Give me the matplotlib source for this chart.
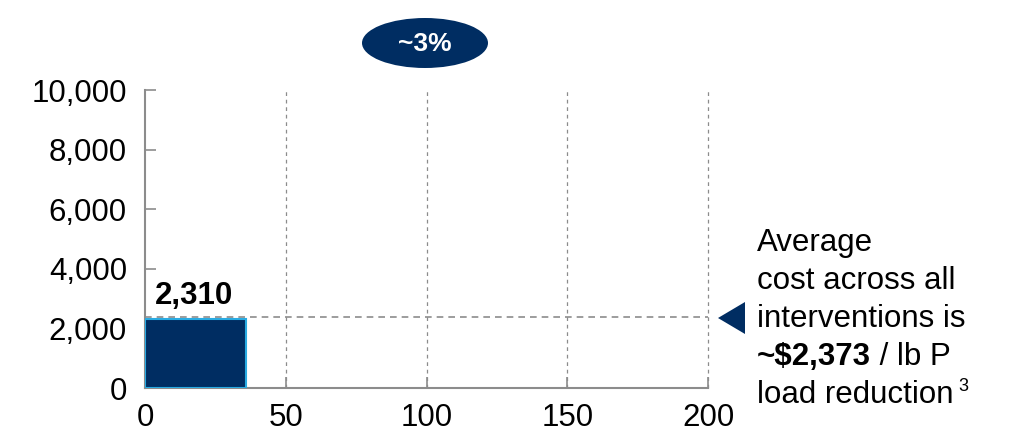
import matplotlib
matplotlib.use("Agg")
import matplotlib.pyplot as plt
from matplotlib.patches import Ellipse, Polygon

plt.rcParams['font.family'] = ['Liberation Sans', 'DejaVu Sans']

# Data
bar_left = [0]
bar_widths = [36]
bar_heights = [2310]
bar_labels = ["2,310"]
average_cost = 2373
xticks = [0, 50, 100, 150, 200]
yticks = [0, 2000, 4000, 6000, 8000, 10000]
ytick_labels = ["0", "2,000", "4,000", "6,000", "8,000", "10,000"]
share_label = "~3%"

navy = "#002D62"
light_blue = "#29ABE2"
gray = "#8C8C8C"

W, H = 1010, 434
fig = plt.figure(figsize=(W / 100, H / 100), dpi=100)
ax = fig.add_axes([145 / W, 1 - 388 / H, (708 - 145) / W, (388 - 90) / H])

ax.bar(bar_left, bar_heights, width=bar_widths, align='edge', color=navy,
       edgecolor=light_blue, linewidth=1.5, zorder=3)
for x, w, h, lab in zip(bar_left, bar_widths, bar_heights, bar_labels):
    ax.annotate(lab, xy=(x, h), xytext=(10, 8), textcoords='offset pixels',
                ha='left', va='bottom', fontsize=22.5, fontweight='bold', color='black')

ax.axhline(average_cost, color=gray, linestyle=(0, (4, 3)), linewidth=1.2, zorder=4)

ax.set_xlim(0, 200)
ax.set_ylim(0, 10000)
ax.set_xticks(xticks)
ax.set_yticks(yticks)
ax.set_yticklabels(ytick_labels)
for x in xticks[1:]:
    ax.axvline(x, color=gray, linestyle=(0, (3, 3)), linewidth=0.9, zorder=1,
               clip_on=False)

for s in ['top', 'right']:
    ax.spines[s].set_visible(False)
for s in ['left', 'bottom']:
    ax.spines[s].set_color(gray)
    ax.spines[s].set_linewidth(1.5)
ax.tick_params(axis='both', direction='in', length=8, width=1.2, color=gray,
               labelsize=22.5, labelcolor='black')
ax.tick_params(axis='y', pad=13)
ax.tick_params(axis='x', pad=11)

# Ellipse with share label
ell = Ellipse((425 / W, 1 - 43 / H), 126 / W, 50 / H, transform=fig.transFigure,
              facecolor=navy, edgecolor='none')
fig.add_artist(ell)
fig.text(425 / W, 1 - 44 / H, share_label, ha='center', va='center', color='white',
         fontsize=19, fontweight='bold')

# Triangle marker
tri = Polygon([(718 / W, 1 - 318 / H), (745 / W, 1 - 302 / H), (745 / W, 1 - 334 / H)],
              closed=True, transform=fig.transFigure, facecolor=navy, edgecolor='none')
fig.add_artist(tri)

# Right-hand annotation
x0 = 757 / W
fs = 22.5
fig.text(x0, 1 - 243 / H, "Average", ha='left', va='center', fontsize=fs)
fig.text(x0, 1 - 281 / H, "cost across all", ha='left', va='center', fontsize=fs)
fig.text(x0, 1 - 319 / H, "interventions is", ha='left', va='center', fontsize=fs)
t1 = fig.text(x0, 1 - 357 / H, "~\\$2,373", ha='left', va='center', fontsize=fs,
              fontweight='bold')
ax.annotate(" / lb P", xy=(1, 0), xycoords=t1, ha='left', va='bottom', fontsize=fs,
            annotation_clip=False)
t2 = fig.text(x0, 1 - 395 / H, "load reduction", ha='left', va='center', fontsize=fs)
ax.annotate("3", xy=(1, 0.5), xycoords=t2, xytext=(5, 0), textcoords='offset pixels',
            ha='left', va='bottom', fontsize=13, annotation_clip=False)

fig.savefig("out.png", dpi=100)
